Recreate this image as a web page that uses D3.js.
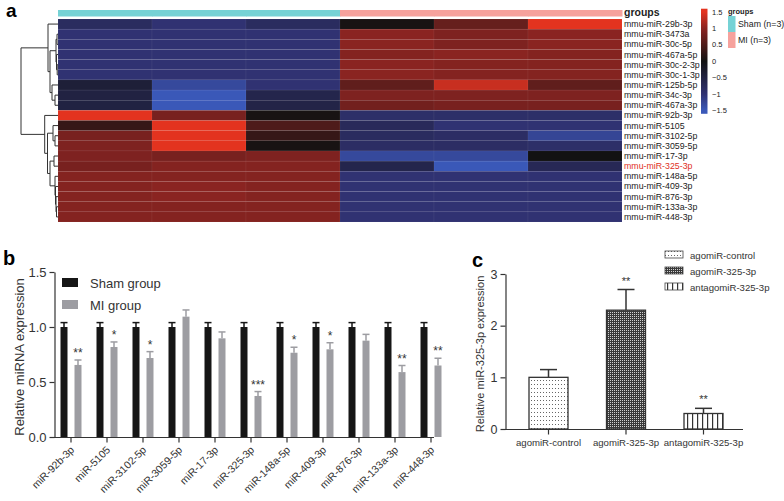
<!DOCTYPE html>
<html>
<head>
<meta charset="utf-8">
<script src="https://cdn.jsdelivr.net/npm/d3@7/dist/d3.min.js"></script>
<style>
  html, body { margin: 0; padding: 0; background: #fff; }
  svg { display: block; font-family: "Liberation Sans", Arial, Helvetica, sans-serif; }
</style>
</head>
<body>
<svg id="chart" width="784" height="501"></svg>
<script>
// ---------------- DATA ----------------
const heatRows = ["mmu-miR-29b-3p","mmu-miR-3473a","mmu-miR-30c-5p","mmu-miR-467a-5p","mmu-miR-30c-2-3p",
  "mmu-miR-30c-1-3p","mmu-miR-125b-5p","mmu-miR-34c-3p","mmu-miR-467a-3p","mmu-miR-92b-3p","mmu-miR-5105",
  "mmu-miR-3102-5p","mmu-miR-3059-5p","mmu-miR-17-3p","mmu-miR-325-3p","mmu-miR-148a-5p","mmu-miR-409-3p",
  "mmu-miR-876-3p","mmu-miR-133a-3p","mmu-miR-448-3p"];
const heatCols = ["Sham1","Sham2","Sham3","MI1","MI2","MI3"];
const colGroups = ["Sham","Sham","Sham","MI","MI","MI"];
const highlightRow = "mmu-miR-325-3p";
const heatValues = [
  [-0.8,-1.0,-0.8, 0.05,0.7,1.5],
  [-1.0,-1.0,-1.0, 1.0,0.9,1.0],
  [-1.0,-1.0,-1.0, 1.0,0.9,1.0],
  [-1.0,-1.0,-1.0, 0.95,1.0,0.95],
  [-1.0,-1.0,-1.0, 1.0,0.95,0.95],
  [-1.0,-1.0,-1.0, 1.0,0.95,0.95],
  [-0.4,-1.3,-1.0, 0.65,1.35,0.65],
  [-0.5,-1.5,-0.6, 0.9,0.9,0.9],
  [-0.5,-1.5,-0.55, 0.8,0.85,0.85],
  [1.5,0.85,0.05, -0.9,-0.9,-0.9],
  [0.3,1.5,0.5, -0.75,-1.0,-1.0],
  [0.85,1.5,0.3, -0.8,-0.85,-1.25],
  [0.9,1.5,0.05, -0.85,-0.85,-0.9],
  [0.9,0.85,0.9, -1.3,-1.3,0.0],
  [0.85,0.95,0.95, -0.6,-1.5,-0.7],
  [0.95,0.95,0.95, -1.0,-1.0,-1.0],
  [0.95,1.0,0.95, -1.0,-1.0,-1.0],
  [0.95,1.0,0.95, -1.0,-1.0,-1.0],
  [0.95,0.95,0.95, -1.0,-1.0,-1.0],
  [0.95,0.95,0.95, -1.0,-1.0,-1.0]
];
// dendrogram: [height, left, right]; leaves are row indices
const rowTree = [37,
  [10, 0, [8, [2, [1, 1, 2], [1.5, 3, [0.8, 4, 5]]], [6, 6, [3, 7, 8]]]],
  [13.3, 9, [10.5, [5, 10, [3, 11, 12]], [8, [4, 13, 14], [3, 15, [2.5, 16, [2, 17, [1.5, 18, 19]]]]]]]
];
const legendTicks = [1.5, 1, 0.5, 0, -0.5, -1, -1.5];
const groupNames = ["Sham", "MI"];
const groupLabels = ["Sham (n=3)", "MI (n=3)"];

const bCategories = ["miR-92b-3p","miR-5105","miR-3102-5p","miR-3059-5p","miR-17-3p","miR-325-3p",
  "miR-148a-5p","miR-409-3p","miR-876-3p","miR-133a-3p","miR-448-3p"];
const bSeries = ["Sham group", "MI group"];
const shamValues = [1.0,1.0,1.0,1.0,1.0,1.0,1.0,1.0,1.0,1.0,1.0];
const shamErrors = [0.04,0.04,0.04,0.04,0.04,0.04,0.04,0.04,0.04,0.04,0.04];
const miValues = [0.655,0.818,0.718,1.094,0.897,0.373,0.766,0.797,0.876,0.59,0.65];
const miErrors = [0.045,0.046,0.058,0.061,0.058,0.04,0.05,0.06,0.057,0.06,0.066];
const miStars = ["**","*","*","","","***","*","*","","**","**"];
const bTicks = [0, 0.5, 1.0, 1.5];

const cCategories = ["agomiR-control","agomiR-325-3p","antagomiR-325-3p"];
const cValues = [1.0, 2.3, 0.3];
const cErrors = [0.15, 0.4, 0.1];
const cStars = ["", "**", "**"];
const cTicks = [0, 1, 2, 3];

// ---------------- DRAW ----------------
const svg = d3.select("#chart");
const defs = svg.append("defs");

// ===== Panel a: heatmap =====
const heatColor = d3.scaleLinear()
  .domain([-1.5, -1, 0, 1, 1.5])
  .range(["#3a58b8", "#303272", "#121212", "#8a2421", "#e3331f"]);
const groupColor = d3.scaleOrdinal().domain(groupNames).range(["#76d2d5", "#f6a29d"]);

const hx = d3.scaleBand().domain(heatCols).range([58, 622]);
const hy = d3.scaleBand().domain(heatRows).range([19, 222]);

svg.append("text").attr("x", 6).attr("y", 17).attr("font-size", 19).attr("font-weight", "bold").text("a");

// annotation bar
svg.append("g").selectAll("rect").data(heatCols).join("rect")
  .attr("x", d => hx(d)).attr("y", 10).attr("width", hx.bandwidth() + 0.5).attr("height", 6.5)
  .attr("fill", (d, i) => groupColor(colGroups[i]));
svg.append("text").attr("x", 624).attr("y", 16).attr("font-size", 10.5).attr("font-weight", "bold")
  .attr("fill", "#222").text("groups");

// cells
const cells = [];
heatValues.forEach((row, r) => row.forEach((v, c) => cells.push({ r: heatRows[r], c: heatCols[c], v })));
svg.append("g").selectAll("rect").data(cells).join("rect")
  .attr("x", d => hx(d.c)).attr("y", d => hy(d.r))
  .attr("width", hx.bandwidth()).attr("height", hy.bandwidth())
  .attr("fill", d => heatColor(d.v))
  .attr("stroke", "rgba(255,255,255,0.07)").attr("stroke-width", 0.6);

// row labels
svg.append("g").selectAll("text").data(heatRows).join("text")
  .attr("x", 624).attr("y", d => hy(d) + hy.bandwidth() / 2 + 3)
  .attr("font-size", 8.8)
  .attr("fill", d => d === highlightRow ? "#e0301e" : "#222")
  .text(d => d);

// dendrogram
const dx = d3.scaleLinear().domain([0, 37]).range([58, 21]);
const dendro = svg.append("g").attr("fill", "none").attr("stroke", "#333").attr("stroke-width", 1);
function layout(node) {
  if (typeof node === "number") return { y: hy(heatRows[node]) + hy.bandwidth() / 2, x: dx(0) };
  const a = layout(node[1]), b = layout(node[2]);
  const x = dx(node[0]);
  const y = (a.y + b.y) / 2;
  dendro.append("path").attr("d", `M${a.x},${a.y}H${x}V${b.y}H${b.x}`);
  return { x, y };
}
layout(rowTree);

// colour legend
const grad = defs.append("linearGradient").attr("id", "heatGrad")
  .attr("x1", 0).attr("y1", 1).attr("x2", 0).attr("y2", 0);
const ly = d3.scaleLinear().domain([-1.5, 1.5]).range([110.5, 12]);
const gradScale = d3.scaleLinear().domain([-1.6, 1.6]).range([0, 1]);
grad.append("stop").attr("offset", 0).attr("stop-color", heatColor(-1.5));
heatColor.domain().forEach(v => grad.append("stop").attr("offset", gradScale(v)).attr("stop-color", heatColor(v)));
grad.append("stop").attr("offset", 1).attr("stop-color", heatColor(1.5));
svg.append("rect").attr("x", 701).attr("y", ly(1.6)).attr("width", 6.5).attr("height", ly(-1.6) - ly(1.6))
  .attr("fill", "url(#heatGrad)");
svg.append("g").selectAll("text").data(legendTicks).join("text")
  .attr("x", 712).attr("y", d => ly(d) + 2.5).attr("font-size", 7.5).attr("fill", "#222")
  .text(d => d < 0 ? "\u2212" + Math.abs(d) : String(d));

// group legend
svg.append("text").attr("x", 728).attr("y", 14).attr("font-size", 7.5).attr("font-weight", "bold")
  .attr("fill", "#222").text("groups");
const gl = svg.append("g").selectAll("g").data(groupNames).join("g")
  .attr("transform", (d, i) => `translate(728,${16 + i * 16})`);
gl.append("rect").attr("width", 7.5).attr("height", 16).attr("fill", d => groupColor(d));
gl.append("text").attr("x", 10).attr("y", 11).attr("font-size", 8.8).attr("fill", "#222")
  .text((d, i) => groupLabels[i]);

// ===== Panel b =====
const bx = d3.scaleBand().domain(bCategories).range([53, 449]);
const by = d3.scaleLinear().domain([0, 1.5]).range([437, 272]);
const bColors = d3.scaleOrdinal().domain(bSeries).range(["#161616", "#9d9da2"]);
const barW = 7;

svg.append("text").attr("x", 3).attr("y", 265).attr("font-size", 20).attr("font-weight", "bold").text("b");

const bData = [];
bCategories.forEach((c, i) => {
  bData.push({ c, s: bSeries[0], v: shamValues[i], e: shamErrors[i], star: "" });
  bData.push({ c, s: bSeries[1], v: miValues[i], e: miErrors[i], star: miStars[i] });
});
const bcx = d => bx(d.c) + bx.bandwidth() / 2 + (d.s === bSeries[0] ? -7 : 7);
const bg = svg.append("g");
bg.selectAll("line.err").data(bData).join("line")
  .attr("x1", bcx).attr("x2", bcx).attr("y1", d => by(d.v)).attr("y2", d => by(d.v + d.e))
  .attr("stroke", d => bColors(d.s)).attr("stroke-width", 1.5);
bg.selectAll("line.cap").data(bData).join("line")
  .attr("x1", d => bcx(d) - 3.5).attr("x2", d => bcx(d) + 3.5).attr("y1", d => by(d.v + d.e)).attr("y2", d => by(d.v + d.e))
  .attr("stroke", d => bColors(d.s)).attr("stroke-width", 1.5);
bg.selectAll("rect").data(bData).join("rect")
  .attr("x", d => bcx(d) - barW / 2).attr("y", d => by(d.v)).attr("width", barW).attr("height", d => by(0) - by(d.v))
  .attr("fill", d => bColors(d.s));
bg.selectAll("text.star").data(bData.filter(d => d.star)).join("text")
  .attr("x", bcx).attr("y", d => by(d.v + d.e) - 3).attr("text-anchor", "middle")
  .attr("font-size", 12).attr("fill", "#333").text(d => d.star);

const bYAxis = svg.append("g").attr("transform", "translate(54.5,0)")
  .call(d3.axisLeft(by).tickValues(bTicks).tickFormat(d3.format(".1f")).tickSize(5).tickSizeOuter(0));
bYAxis.selectAll("text").attr("font-size", 13).attr("fill", "#333").attr("font-family", "Liberation Sans, Arial");
bYAxis.selectAll("line, path").attr("stroke", "#333").attr("stroke-width", 1.2);

const bXAxis = svg.append("g").attr("transform", "translate(0,437.5)")
  .call(d3.axisBottom(bx).tickSize(5).tickSizeOuter(0));
bXAxis.select(".domain").attr("d", "M54,0H434");
bXAxis.selectAll("line, path").attr("stroke", "#333").attr("stroke-width", 1.2);
bXAxis.selectAll("text").attr("font-size", 10.5).attr("fill", "#333").attr("font-family", "Liberation Sans, Arial")
  .attr("text-anchor", "end").attr("dy", 0).attr("y", 0)
  .attr("transform", "translate(4,13) rotate(-45)");

svg.append("text").attr("transform", "translate(24,357) rotate(-90)").attr("text-anchor", "middle")
  .attr("font-size", 13).attr("fill", "#333").text("Relative miRNA expression");

// legend b
const bl = svg.append("g").selectAll("g").data(bSeries).join("g")
  .attr("transform", (d, i) => `translate(62,${278 + i * 22})`);
bl.append("rect").attr("width", 16).attr("height", 9).attr("fill", d => bColors(d));
bl.append("text").attr("x", 28).attr("y", 9.5).attr("font-size", 13).attr("fill", "#333").text(d => d);

// ===== Panel c =====
const cx = d3.scaleBand().domain(cCategories).range([509.75, 742.25]);
const cy = d3.scaleLinear().domain([0, 3]).range([429, 274]);
const cBarW = 39;

// patterns
const pDots = defs.append("pattern").attr("id", "pDots").attr("patternUnits", "userSpaceOnUse")
  .attr("width", 3).attr("height", 4);
pDots.append("rect").attr("width", 3).attr("height", 4).attr("fill", "#fff");
pDots.append("rect").attr("width", 1).attr("height", 1).attr("fill", "#666");
const pCheck = defs.append("pattern").attr("id", "pCheck").attr("patternUnits", "userSpaceOnUse")
  .attr("width", 2).attr("height", 2);
pCheck.append("rect").attr("width", 2).attr("height", 2).attr("fill", "#3a3a3a");
pCheck.append("rect").attr("width", 1).attr("height", 1).attr("fill", "#d2d2d2");
const pVert = defs.append("pattern").attr("id", "pVert").attr("patternUnits", "userSpaceOnUse")
  .attr("width", 5).attr("height", 5);
pVert.append("rect").attr("width", 5).attr("height", 5).attr("fill", "#fff");
pVert.append("rect").attr("x", 2).attr("width", 1.2).attr("height", 5).attr("fill", "#333");
const cFill = d3.scaleOrdinal().domain(cCategories).range(["url(#pDots)", "url(#pCheck)", "url(#pVert)"]);

svg.append("text").attr("x", 472).attr("y", 267).attr("font-size", 20).attr("font-weight", "bold").text("c");

const cData = cCategories.map((c, i) => ({ c, v: cValues[i], e: cErrors[i], star: cStars[i] }));
const ccx = d => cx(d.c) + cx.bandwidth() / 2;
const cg = svg.append("g");
cg.selectAll("line.err").data(cData).join("line")
  .attr("x1", ccx).attr("x2", ccx).attr("y1", d => cy(d.v)).attr("y2", d => cy(d.v + d.e))
  .attr("stroke", "#333").attr("stroke-width", 1.5);
cg.selectAll("line.cap").data(cData).join("line")
  .attr("x1", d => ccx(d) - 8.5).attr("x2", d => ccx(d) + 8.5).attr("y1", d => cy(d.v + d.e)).attr("y2", d => cy(d.v + d.e))
  .attr("stroke", "#333").attr("stroke-width", 1.5);
cg.selectAll("rect").data(cData).join("rect")
  .attr("x", d => ccx(d) - cBarW / 2).attr("y", d => cy(d.v)).attr("width", cBarW).attr("height", d => cy(0) - cy(d.v))
  .attr("fill", d => cFill(d.c)).attr("stroke", "#333").attr("stroke-width", 1.3);
cg.selectAll("text.star").data(cData.filter(d => d.star)).join("text")
  .attr("x", ccx).attr("y", d => cy(d.v + d.e) - 5).attr("text-anchor", "middle")
  .attr("font-size", 11).attr("fill", "#333").text(d => d.star);

const cYAxis = svg.append("g").attr("transform", "translate(505.5,0)")
  .call(d3.axisLeft(cy).tickValues(cTicks).tickFormat(d3.format("d")).tickSize(5).tickSizeOuter(0));
cYAxis.selectAll("text").attr("font-size", 12.5).attr("fill", "#333").attr("font-family", "Liberation Sans, Arial");
cYAxis.selectAll("line, path").attr("stroke", "#333").attr("stroke-width", 1.2);

const cXAxis = svg.append("g").attr("transform", "translate(0,429.5)")
  .call(d3.axisBottom(cx).tickSize(5).tickSizeOuter(0));
cXAxis.select(".domain").attr("d", "M505,0H743");
cXAxis.selectAll("line, path").attr("stroke", "#333").attr("stroke-width", 1.2);
cXAxis.selectAll("text").attr("font-size", 9.6).attr("fill", "#333").attr("font-family", "Liberation Sans, Arial")
  .attr("y", 10).attr("dy", "0.71em");

svg.append("text").attr("transform", "translate(484,354) rotate(-90)").attr("text-anchor", "middle")
  .attr("font-size", 11).attr("fill", "#333").text("Relative miR-325-3p expression");

// legend c
const cl = svg.append("g").selectAll("g").data(cCategories).join("g")
  .attr("transform", (d, i) => `translate(665,${251 + i * 16})`);
cl.append("rect").attr("width", 18).attr("height", 7).attr("fill", d => cFill(d)).attr("stroke", "#444").attr("stroke-width", 0.8);
cl.append("text").attr("x", 25).attr("y", 8).attr("font-size", 9.6).attr("fill", "#333").text(d => d);
</script>
</body>
</html>
